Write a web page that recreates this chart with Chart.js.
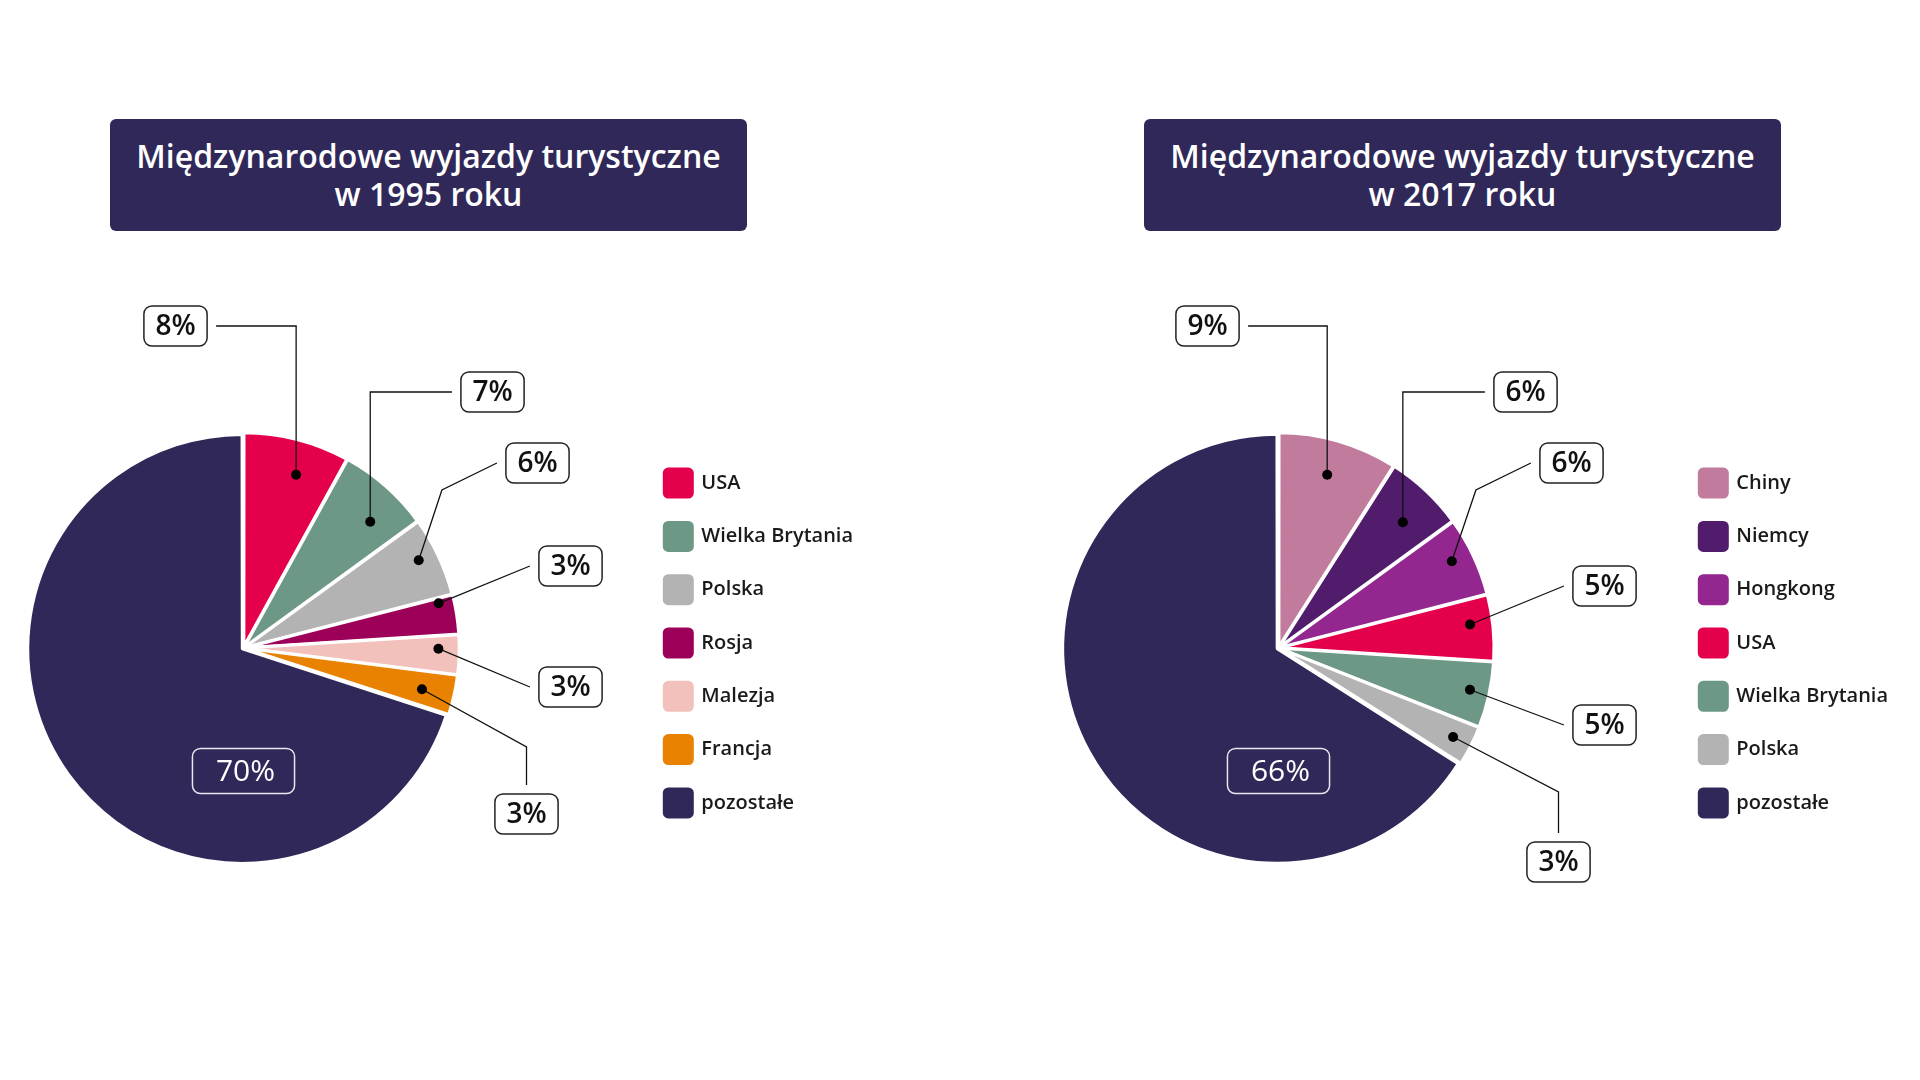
<!DOCTYPE html>
<html>
<head>
<meta charset="utf-8">
<script src="https://cdn.jsdelivr.net/npm/chart.js@4.4.1/dist/chart.umd.min.js"></script>
<style>
  body { margin: 0; width: 1920px; height: 1080px; background: #fff; position: relative; overflow: hidden; font-family: "Open Sans", sans-serif; }
  .title { position: absolute; top: 119px; width: 637px; height: 112px; background: #302858; border-radius: 6px;
           color: #fff; font-size: 32px; font-weight: 600; line-height: 38px; display: flex; align-items: center; justify-content: center; text-align: center; }
  canvas { position: absolute; top: 248px; }
</style>
</head>
<body>
<div class="title" style="left:110px">Międzynarodowe wyjazdy turystyczne<br>w 1995 roku</div>
<div class="title" style="left:1144px">Międzynarodowe wyjazdy turystyczne<br>w 2017 roku</div>
<canvas id="pie1995" width="1027" height="800" style="left:-151px"></canvas>
<canvas id="pie2017" width="1027" height="800" style="left:884px"></canvas>
<script>
// data
const labels1995 = ['USA', 'Wielka Brytania', 'Polska', 'Rosja', 'Malezja', 'Francja', 'pozostałe'];
const values1995 = [8, 7, 6, 3, 3, 3, 70];
const labels2017 = ['Chiny', 'Niemcy', 'Hongkong', 'USA', 'Wielka Brytania', 'Polska', 'pozostałe'];
const values2017 = [9, 6, 6, 5, 5, 3, 66];

// styles
const colors1995 = ['#e5004b', '#6d9886', '#b3b3b3', '#9d0058', '#f2c1bb', '#e88200', '#302858'];
const colors2017 = ['#c17b9c', '#521c6d', '#93278f', '#e5004b', '#6d9886', '#b3b3b3', '#302858'];

// where each callout box sits (relative to pie centre) and how its leader line runs
const callouts1995 = [
  { dx: -68, dy: -322, route: 'vh', r: 0.85, da: 2.5 },
  { dx: 249, dy: -256, route: 'vh', r: 0.84, da: 3.7 },
  { dx: 294, dy: -185, route: 'elbow', r: 0.92, da: -1.4, ex: -55, ey: 27 },
  { dx: 327, dy: -82, route: 'direct', r: 0.94, da: -3.9 },
  { dx: 327, dy: 39, route: 'direct', r: 0.915, da: -1.6 },
  { dx: 283, dy: 166, route: 'dv', r: 0.86, da: 0.4, ey: 47 },
  { dx: 0, dy: 123, route: 'inside' }
];
const callouts2017 = [
  { dx: -71, dy: -322, route: 'vh', r: 0.845, da: -0.5 },
  { dx: 247, dy: -256, route: 'vh', r: 0.83, da: 1.5 },
  { dx: 293, dy: -185, route: 'elbow', r: 0.91, da: -1.4, ex: -55, ey: 27 },
  { dx: 326, dy: -62, route: 'direct', r: 0.906, da: -1.6 },
  { dx: 326, dy: 77, route: 'direct', r: 0.92, da: -0.3 },
  { dx: 280, dy: 214, route: 'dv', r: 0.92, da: 0, ey: 50 },
  { dx: 0, dy: 123, route: 'inside' }
];

const calloutPlugin = {
  id: 'callouts',
  afterDatasetsDraw(chart, args, opts) {
    const ctx = chart.ctx;
    const meta = chart.getDatasetMeta(0);
    const values = chart.data.datasets[0].data;
    const gap = 9;
    ctx.save();
    meta.data.forEach((arc, i) => {
      const L = opts.layout[i];
      const p = arc.getProps(['x', 'y', 'startAngle', 'endAngle', 'outerRadius'], true);
      const text = values[i] + '%';
      const inside = L.route === 'inside';
      ctx.font = (inside ? '400 30px' : '600 28px') + ' "Open Sans"';
      const tw = ctx.measureText(text).width;
      const w = tw + (inside ? 43 : 23), h = inside ? 45 : 40;
      const bx = p.x + L.dx, by = p.y + L.dy;

      if (!inside) {
        const a = (p.startAngle + p.endAngle) / 2 + L.da * Math.PI / 180;
        const dot = { x: p.x + Math.cos(a) * p.outerRadius * L.r, y: p.y + Math.sin(a) * p.outerRadius * L.r };
        const pts = [dot];
        if (L.route === 'vh') {
          pts.push({ x: dot.x, y: by });
          pts.push({ x: bx < dot.x ? bx + w / 2 + gap : bx - w / 2 - gap, y: by });
        } else if (L.route === 'elbow') {
          const end = { x: bx - w / 2 - gap, y: by };
          pts.push({ x: end.x + L.ex, y: end.y + L.ey }, end);
        } else if (L.route === 'direct') {
          pts.push({ x: bx - w / 2 - gap, y: by });
        } else if (L.route === 'dv') {
          pts.push({ x: bx, y: by - h / 2 - L.ey }, { x: bx, y: by - h / 2 - gap });
        }
        ctx.strokeStyle = '#111';
        ctx.lineWidth = 1.3;
        ctx.beginPath();
        pts.forEach((q, k) => k ? ctx.lineTo(q.x, q.y) : ctx.moveTo(q.x, q.y));
        ctx.stroke();
        ctx.fillStyle = '#000';
        ctx.beginPath();
        ctx.arc(dot.x, dot.y, 5, 0, Math.PI * 2);
        ctx.fill();
      }

      ctx.beginPath();
      ctx.roundRect(bx - w / 2, by - h / 2, w, h, 8);
      if (!inside) {
        ctx.fillStyle = '#fff';
        ctx.fill();
      }
      ctx.strokeStyle = inside ? '#e8e6ef' : '#222';
      ctx.lineWidth = 1.5;
      ctx.stroke();
      ctx.fillStyle = inside ? '#fff' : '#111';
      ctx.textAlign = 'center';
      ctx.textBaseline = 'middle';
      ctx.fillText(text, bx + (inside ? 2 : 0), by + 1);
    });
    ctx.restore();
  }
};

// legend sits a little above the pie centre in the original
const legendNudge = {
  id: 'legendNudge',
  afterLayout(chart) {
    chart.legend.top -= 5;
    chart.legend.bottom -= 5;
  }
};

function makePie(id, labels, values, colors, layout) {
  const ctx = document.getElementById(id).getContext('2d');
  return new Chart(ctx, {
    type: 'pie',
    data: {
      labels: labels,
      datasets: [{
        data: values,
        backgroundColor: colors,
        borderColor: '#fff',
        borderWidth: 3,
        offset: 6,
        radius: 213
      }]
    },
    options: {
      responsive: false,
      animation: false,
      events: [],
      layout: { padding: { right: 20 } },
      plugins: {
        tooltip: { enabled: false },
        legend: {
          position: 'right',
          maxWidth: 218,
          labels: {
            boxWidth: 26,
            boxHeight: 26,
            useBorderRadius: true,
            borderRadius: 3,
            padding: 27.3,
            color: '#1a1a1a',
            font: { family: 'Open Sans', size: 20, weight: '600' },
            generateLabels: (chart) => Chart.overrides.doughnut.plugins.legend.labels.generateLabels(chart)
              .map(l => Object.assign(l, { lineWidth: 5, strokeStyle: l.fillStyle }))
          }
        },
        callouts: { layout: layout }
      }
    },
    plugins: [calloutPlugin, legendNudge]
  });
}

makePie('pie1995', labels1995, values1995, colors1995, callouts1995);
makePie('pie2017', labels2017, values2017, colors2017, callouts2017);
</script>
</body>
</html>
